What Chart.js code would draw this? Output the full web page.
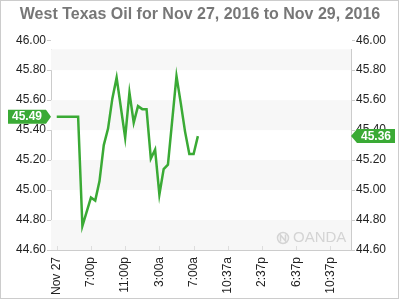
<!DOCTYPE html>
<html>
<head>
<meta charset="utf-8">
<script src="https://cdn.jsdelivr.net/npm/chart.js@4.4.1/dist/chart.umd.min.js"></script>
<style>
html,body{margin:0;padding:0;background:#fff;}
canvas{display:block;}
</style>
</head>
<body>
<canvas id="c" width="400" height="300"></canvas>
<script>
// ---- data (hours since first tick, price) ----
const hours  = [0, 2.5, 3, 4, 4.5, 5, 5.5, 6, 6.5, 7, 8, 8.5, 9, 9.5, 10, 10.5, 11, 11.5, 12, 12.5, 13, 14, 14.5, 15, 15.5, 16, 16.5];
const prices = [45.49, 45.49, 44.76, 44.95, 44.93, 45.06, 45.30, 45.41, 45.61, 45.75, 45.35, 45.65, 45.45, 45.56, 45.54, 45.54, 45.21, 45.27, 44.97, 45.14, 45.17, 45.76, 45.58, 45.39, 45.24, 45.24, 45.36];
const xTickHours  = [0, 4, 8, 12, 16, 20, 24, 28, 32];
const xTickLabels = ["Nov 27", "7:00p", "11:00p", "3:00a", "7:00a", "10:37a", "2:37p", "6:37p", "10:37p"];
const yTicks = [44.6, 44.8, 45.0, 45.2, 45.4, 45.6, 45.8, 46.0];
const prevClose = 45.49;
const lastPrice = 45.36;
const titleText = "West Texas Oil for Nov 27, 2016 to Nov 29, 2016";

const GREEN = "#3aaa35";
const FONT = "'Liberation Sans', Arial, sans-serif";

const points = hours.map((h, i) => ({x: h, y: prices[i]}));

const yAxisCommon = {
  type: 'linear',
  min: 44.6,
  max: 45.94,
  afterBuildTicks: s => { s.ticks = yTicks.map(v => ({value: v})); },
  ticks: {
    autoSkip: false,
    color: '#222',
    font: {family: FONT, size: 12},
    padding: 1,
    callback: v => Number(v).toFixed(2)
  },
  grid: {drawOnChartArea: false, drawTicks: true, tickLength: 4, color: '#cccccc'},
  border: {display: true, color: '#cccccc'}
};

const bandsPlugin = {
  id: 'bands',
  beforeDatasetsDraw(chart) {
    const {ctx, chartArea: a} = chart;
    const y = chart.scales.y;
    ctx.save();
    ctx.beginPath();
    ctx.rect(a.left, a.top, a.right - a.left, a.bottom - a.top);
    ctx.clip();
    ctx.fillStyle = '#f7f7f7';
    for (let i = 0; i + 1 < yTicks.length; i += 2) {
      const lo = yTicks[i], hi = yTicks[i + 1];
      const p1 = y.getPixelForValue(hi), p2 = y.getPixelForValue(lo);
      // bands on 44.8-45.0? use pairs starting from top
    }
    const pairs = [[45.8, 46.0], [45.4, 45.6], [45.0, 45.2], [44.6, 44.8]];
    pairs.forEach(([lo, hi]) => {
      const p1 = y.getPixelForValue(hi), p2 = y.getPixelForValue(lo);
      ctx.fillRect(a.left, p1, a.right - a.left, p2 - p1);
    });
    ctx.restore();
    // x tick marks inside the plot bottom
    const x = chart.scales.x;
    ctx.save();
    ctx.strokeStyle = '#dddddd';
    ctx.lineWidth = 1;
    xTickHours.forEach(h => {
      const px = Math.round(x.getPixelForValue(h)) + 0.5;
      ctx.beginPath();
      ctx.moveTo(px, a.bottom - 4);
      ctx.lineTo(px, a.bottom);
      ctx.stroke();
    });
    ctx.restore();
    // watermark
    ctx.save();
    ctx.fillStyle = '#d4d4d4';
    ctx.strokeStyle = '#d4d4d4';
    ctx.font = "15px " + FONT;
    ctx.textBaseline = 'middle';
    ctx.textAlign = 'left';
    const wx = a.right - 58, wy = a.bottom - 12;
    ctx.fillText('OANDA', wx, wy);
    ctx.lineWidth = 1.5;
    ctx.beginPath();
    ctx.arc(wx - 10, wy, 5.5, 0, Math.PI * 2);
    ctx.stroke();
    ctx.beginPath();
    ctx.moveTo(wx - 12.5, wy + 3.5); ctx.lineTo(wx - 12.5, wy - 3); ctx.lineTo(wx - 7.5, wy + 3); ctx.lineTo(wx - 7.5, wy - 3.5);
    ctx.stroke();
    ctx.restore();
  }
};

function callout(ctx, text, tipX, cy, dir) {
  ctx.save();
  ctx.font = "bold 12px " + FONT;
  const w = ctx.measureText(text).width + 8;
  const h = 14;
  ctx.fillStyle = GREEN;
  ctx.beginPath();
  if (dir === 'right') {
    const right = tipX - 5;
    const left = right - w;
    ctx.moveTo(left, cy - h / 2);
    ctx.lineTo(right, cy - h / 2);
    ctx.lineTo(tipX, cy);
    ctx.lineTo(right, cy + h / 2);
    ctx.lineTo(left, cy + h / 2);
    ctx.closePath();
    ctx.fill();
    ctx.fillStyle = '#fff';
    ctx.textAlign = 'center';
    ctx.textBaseline = 'middle';
    ctx.fillText(text, (left + right) / 2, cy + 0.5);
  } else {
    const left = tipX + 6;
    const right = left + w;
    ctx.moveTo(tipX, cy);
    ctx.lineTo(left, cy - h / 2);
    ctx.lineTo(right, cy - h / 2);
    ctx.lineTo(right, cy + h / 2);
    ctx.lineTo(left, cy + h / 2);
    ctx.closePath();
    ctx.fill();
    ctx.fillStyle = '#fff';
    ctx.textAlign = 'center';
    ctx.textBaseline = 'middle';
    ctx.fillText(text, (left + right) / 2, cy + 0.5);
  }
  ctx.restore();
}

const overlayPlugin = {
  id: 'overlay',
  afterDraw(chart) {
    const {ctx, chartArea: a} = chart;
    const y = chart.scales.y;
    callout(ctx, prevClose.toFixed(2), a.left, y.getPixelForValue(prevClose), 'right');
    callout(ctx, lastPrice.toFixed(2), a.right, y.getPixelForValue(lastPrice), 'left');
    ctx.save();
    ctx.strokeStyle = '#cccccc';
    ctx.lineWidth = 1;
    ctx.strokeRect(0.5, 0.5, 398, 298);
    ctx.restore();
  }
};

new Chart(document.getElementById('c'), {
  type: 'line',
  data: {
    datasets: [{
      data: points,
      borderColor: GREEN,
      borderWidth: 2.5,
      pointRadius: 0,
      tension: 0,
      fill: false,
      yAxisID: 'y'
    }]
  },
  options: {
    responsive: false,
    animation: false,
    devicePixelRatio: 1,
    layout: {padding: 0},
    plugins: {
      legend: {display: false},
      tooltip: {enabled: false},
      title: {
        display: true,
        text: titleText,
        color: '#777777',
        font: {family: FONT, size: 16, weight: 'bold'},
        padding: {top: 5, bottom: 25}
      }
    },
    scales: {
      x: {
        type: 'linear',
        min: -0.67,
        max: 34.4,
        afterBuildTicks: s => { s.ticks = xTickHours.map(v => ({value: v})); },
        afterFit: s => { s.height = 50; },
        ticks: {
          autoSkip: false,
          maxRotation: 90,
          minRotation: 90,
          color: '#222',
          font: {family: FONT, size: 12},
          padding: 7,
          callback: (v) => { const i = xTickHours.indexOf(v); return i >= 0 ? xTickLabels[i] : ''; }
        },
        grid: {display: true, drawOnChartArea: false, drawTicks: false},
        border: {display: true, color: '#cccccc'}
      },
      y: Object.assign({}, yAxisCommon, {
        position: 'left',
        afterFit: s => { s.width = 51; }
      }),
      y2: Object.assign({}, yAxisCommon, {
        position: 'right',
        display: true,
        afterFit: s => { s.width = 49; }
      })
    }
  },
  plugins: [bandsPlugin, overlayPlugin]
});
</script>
</body>
</html>
